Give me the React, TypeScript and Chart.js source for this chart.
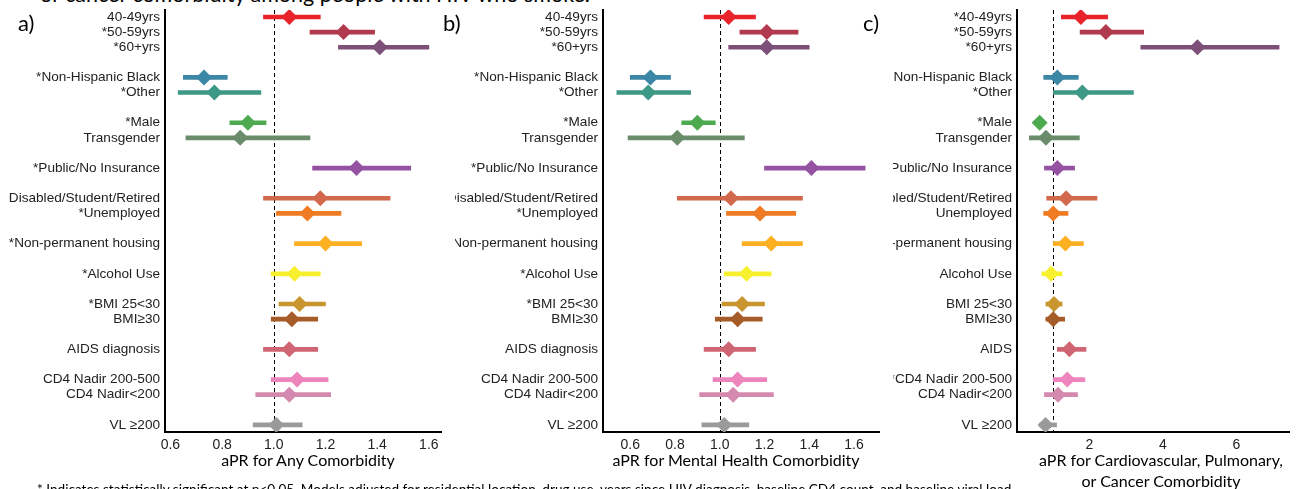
import React, { useEffect, useRef } from "react";
import { Chart, registerables } from "chart.js";

Chart.register(...registerables);

// Row positions (gaps separate the covariate groups)
const rows = [0, 1, 2, 4, 5, 7, 8, 10, 12, 13, 15, 17, 19, 20, 22, 24, 25, 27];

const colors = [
  "#E8232A", "#B23A4E", "#7C5079", "#3C86A6", "#3E9886", "#4DAA4F", "#6B8C6A",
  "#9552A2", "#D2694C", "#EF7B22", "#FDB022", "#F7F02E", "#C9952F", "#A65C29",
  "#CF6572", "#EE84BC", "#D489AF", "#9A9A9A",
];

const labelsA = [
  "40-49yrs", "*50-59yrs", "*60+yrs", "*Non-Hispanic Black", "*Other", "*Male", "Transgender",
  "*Public/No Insurance", "Disabled/Student/Retired", "*Unemployed", "*Non-permanent housing",
  "*Alcohol Use", "*BMI 25<30", "BMI≥30", "AIDS diagnosis", "CD4 Nadir 200-500", "CD4 Nadir<200", "VL ≥200",
];
const labelsB = [
  "40-49yrs", "*50-59yrs", "*60+yrs", "*Non-Hispanic Black", "*Other", "*Male", "Transgender",
  "*Public/No Insurance", "Disabled/Student/Retired", "*Unemployed", "*Non-permanent housing",
  "*Alcohol Use", "*BMI 25<30", "BMI≥30", "AIDS diagnosis", "CD4 Nadir 200-500", "CD4 Nadir<200", "VL ≥200",
];
const labelsC = [
  "*40-49yrs", "*50-59yrs", "*60+yrs", "Non-Hispanic Black", "*Other", "*Male", "Transgender",
  "Public/No Insurance", "Disabled/Student/Retired", "Unemployed", "*Non-permanent housing",
  "Alcohol Use", "BMI 25<30", "BMI≥30", "AIDS", "*CD4 Nadir 200-500", "CD4 Nadir<200", "VL ≥200",
];

const estA = [1.06, 1.27, 1.41, 0.73, 0.77, 0.9, 0.87, 1.32, 1.18, 1.13, 1.2, 1.08, 1.1, 1.07, 1.06, 1.09, 1.06, 1.01];
const loA = [0.96, 1.14, 1.25, 0.65, 0.63, 0.83, 0.66, 1.15, 0.96, 1.01, 1.08, 0.99, 1.02, 0.99, 0.96, 0.99, 0.93, 0.92];
const hiA = [1.18, 1.39, 1.6, 0.82, 0.95, 0.97, 1.14, 1.53, 1.45, 1.26, 1.34, 1.18, 1.2, 1.17, 1.17, 1.21, 1.22, 1.11];

const estB = [1.04, 1.21, 1.21, 0.69, 0.68, 0.9, 0.81, 1.41, 1.05, 1.18, 1.23, 1.12, 1.1, 1.08, 1.04, 1.08, 1.06, 1.02];
const loB = [0.93, 1.09, 1.04, 0.6, 0.54, 0.83, 0.59, 1.2, 0.81, 1.03, 1.1, 1.02, 1.01, 0.98, 0.93, 0.97, 0.91, 0.92];
const hiB = [1.16, 1.35, 1.4, 0.78, 0.87, 0.98, 1.11, 1.65, 1.37, 1.34, 1.37, 1.23, 1.2, 1.19, 1.16, 1.21, 1.24, 1.13];

const estC = [1.77, 2.45, 4.94, 1.13, 1.81, 0.65, 0.82, 1.13, 1.37, 1.02, 1.35, 0.96, 1.04, 1.02, 1.46, 1.4, 1.15, 0.81];
const loC = [1.24, 1.75, 3.4, 0.76, 1.02, 0.6, 0.37, 0.78, 0.84, 0.76, 1.02, 0.71, 0.82, 0.82, 1.13, 1.02, 0.78, 0.65];
const hiC = [2.5, 3.48, 7.16, 1.7, 3.2, 0.7, 1.73, 1.6, 2.21, 1.42, 1.84, 1.26, 1.26, 1.33, 1.91, 1.88, 1.68, 1.11];

const ticksAB = [0.6, 0.8, 1.0, 1.2, 1.4, 1.6];
const ticksC = [2, 4, 6];

// dashed reference line at aPR = 1, drawn beneath the markers
const refLinePlugin = {
  id: "refLine",
  beforeDatasetsDraw(chart: any) {
    const { ctx, chartArea, scales } = chart;
    const x = Math.round(scales.x.getPixelForValue(1)) + 0.5;
    ctx.save();
    ctx.strokeStyle = "#000";
    ctx.lineWidth = 1;
    ctx.setLineDash([4, 3]);
    ctx.beginPath();
    ctx.moveTo(x, chartArea.top);
    ctx.lineTo(x, chartArea.bottom);
    ctx.stroke();
    ctx.restore();
  },
};

type PanelProps = {
  labels: string[];
  est: number[];
  lo: number[];
  hi: number[];
  ticks: number[];
  min: number;
  max: number;
  left: number;
  width: number;
  yWidth: number;
  decimals: number;
};

const CANVAS_H = 460;

function Panel(p: PanelProps) {
  const ref = useRef<HTMLCanvasElement | null>(null);
  useEffect(() => {
    if (!ref.current) return;
    const chart = new Chart(ref.current, {
      type: "bar",
      data: {
        datasets: [
          {
            type: "scatter",
            data: p.est.map((v, i) => ({ x: v, y: rows[i] })),
            pointStyle: "rectRot",
            pointRadius: 8,
            pointHoverRadius: 8,
            backgroundColor: colors,
            borderWidth: 0,
            order: 0,
          } as any,
          {
            type: "bar",
            data: p.lo.map((v, i) => ({ x: [v, p.hi[i]], y: rows[i] })),
            backgroundColor: colors,
            borderWidth: 0,
            barThickness: 4,
            order: 1,
          } as any,
        ],
      },
      options: {
        indexAxis: "y",
        animation: false,
        responsive: false,
        maintainAspectRatio: false,
        layout: { padding: { top: 10, left: 0, right: 0, bottom: 0 } },
        plugins: { legend: { display: false }, tooltip: { enabled: false } },
        scales: {
          x: {
            type: "linear",
            min: p.min,
            max: p.max,
            offset: false,
            grid: { display: false, drawTicks: false },
            border: { display: true, color: "#000", width: 2 },
            ticks: {
              autoSkip: false,
              maxRotation: 0,
              padding: 5,
              color: "#222",
              font: { family: "'Liberation Sans', Arial, sans-serif", size: 14 },
              callback: (v: any) => Number(v).toFixed(p.decimals),
            },
            afterBuildTicks: (s: any) => {
              s.ticks = p.ticks.map((v) => ({ value: v }));
            },
            afterFit: (s: any) => {
              s.height = CANVAS_H - 432;
              s.paddingLeft = 0;
              s.paddingRight = 0;
            },
          },
          y: {
            type: "linear",
            reverse: true,
            min: -0.463,
            max: 27.47,
            offset: false,
            grid: { display: false, drawTicks: false },
            border: { display: true, color: "#000", width: 2 },
            ticks: {
              autoSkip: false,
              padding: 5,
              color: "#222",
              font: { family: "'Liberation Sans', Arial, sans-serif", size: 13.6 },
              callback: (v: any) => {
                const idx = rows.indexOf(Number(v));
                return idx >= 0 ? p.labels[idx] : "";
              },
            },
            afterBuildTicks: (s: any) => {
              s.ticks = rows.map((v) => ({ value: v }));
            },
            afterFit: (s: any) => {
              s.width = p.yWidth;
              s.paddingTop = 0;
              s.paddingBottom = 0;
            },
          },
        },
      } as any,
      plugins: [refLinePlugin],
    });
    return () => chart.destroy();
  }, []);
  return (
    <canvas
      ref={ref}
      width={p.width}
      height={CANVAS_H}
      style={{ position: "absolute", left: p.left, top: 0, width: p.width, height: CANVAS_H }}
    />
  );
}

const calibriLike = "Lato, 'Open Sans', sans-serif";

export default function App() {
  const txt = (s: React.CSSProperties): React.CSSProperties => ({
    position: "absolute",
    fontFamily: calibriLike,
    color: "#000",
    whiteSpace: "nowrap",
    margin: 0,
    ...s,
  });
  const axisTitle = (cx: number, top: number): React.CSSProperties =>
    txt({ left: cx - 200, width: 400, top, textAlign: "center", fontSize: 16, lineHeight: "20px" });
  return (
    <div
      style={{
        position: "absolute",
        left: 0,
        top: 0,
        width: 1297,
        height: 489,
        overflow: "hidden",
        background: "#fff",
      }}
    >
      <div style={txt({ left: 40, top: -16, fontSize: 21.5, lineHeight: "21px" })}>
        or cancer comorbidity among people with HIV who smoke.
      </div>
      <Panel labels={labelsA} est={estA} lo={loA} hi={hiA} ticks={ticksAB} min={0.579} max={1.647}
        left={0} width={449} yWidth={165} decimals={1} />
      <Panel labels={labelsB} est={estB} lo={loB} hi={hiB} ticks={ticksAB} min={0.478} max={1.712}
        left={455} width={432} yWidth={148} decimals={1} />
      <Panel labels={labelsC} est={estC} lo={loC} hi={hiC} ticks={ticksC} min={0.034} max={7.43}
        left={893} width={404} yWidth={124} decimals={0} />
      <div style={txt({ left: 18, top: 10, fontSize: 22, lineHeight: "26px" })}>a)</div>
      <div style={txt({ left: 443, top: 10, fontSize: 22, lineHeight: "26px" })}>b)</div>
      <div style={txt({ left: 863, top: 10, fontSize: 22, lineHeight: "26px" })}>c)</div>
      <div style={axisTitle(308, 450)}>aPR for Any Comorbidity</div>
      <div style={axisTitle(736, 450)}>aPR for Mental Health Comorbidity</div>
      <div style={axisTitle(1161, 450)}>aPR for Cardiovascular, Pulmonary,</div>
      <div style={axisTitle(1161, 471)}>or Cancer Comorbidity</div>
      <div style={txt({ left: 37, top: 481, fontSize: 13.6, lineHeight: "16px" })}>
        * Indicates statistically significant at p&lt;0.05. Models adjusted for residential location, drug use, years since HIV diagnosis, baseline CD4 count, and baseline viral load
      </div>
    </div>
  );
}
